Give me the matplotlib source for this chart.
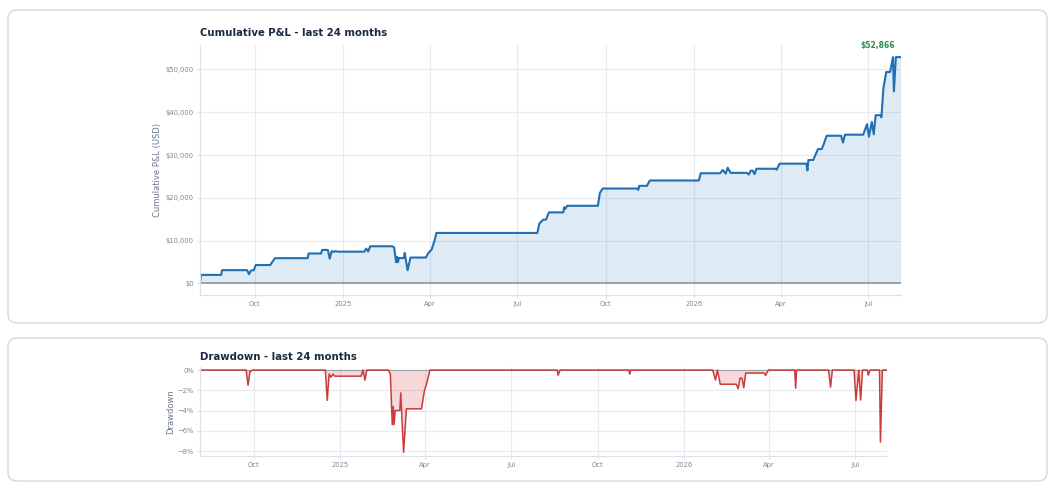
import matplotlib
matplotlib.use("Agg")
import matplotlib.pyplot as plt
import matplotlib.dates as md
from matplotlib.patches import FancyBboxPatch
from matplotlib.ticker import FuncFormatter, PercentFormatter
import numpy as np
import pandas as pd

# cumulative P&L breakpoints (USD)
pnl_dates = [
    "2024-08-05", "2024-08-06", "2024-08-27", "2024-08-28", "2024-09-23", "2024-09-25",
    "2024-09-27", "2024-09-30", "2024-10-02", "2024-10-17", "2024-10-22", "2024-11-25",
    "2024-11-26", "2024-12-09", "2024-12-10", "2024-12-16", "2024-12-18", "2024-12-20",
    "2024-12-22", "2024-12-24", "2024-12-26", "2025-01-23", "2025-01-25", "2025-01-27",
    "2025-01-29", "2025-02-21", "2025-02-23", "2025-02-25", "2025-02-26", "2025-02-27",
    "2025-02-28", "2025-03-05", "2025-03-06", "2025-03-09", "2025-03-12", "2025-03-28",
    "2025-03-31", "2025-04-02", "2025-04-03", "2025-04-06", "2025-04-08", "2025-07-22",
    "2025-07-24", "2025-07-28", "2025-07-31", "2025-08-03", "2025-08-18", "2025-08-19",
    "2025-08-20", "2025-08-22", "2025-09-23", "2025-09-25", "2025-09-28", "2025-11-03",
    "2025-11-04", "2025-11-05", "2025-11-13", "2025-11-16", "2026-01-06", "2026-01-08",
    "2026-01-28", "2026-01-31", "2026-02-03", "2026-02-05", "2026-02-08", "2026-02-25",
    "2026-02-27", "2026-03-01", "2026-03-03", "2026-03-05", "2026-03-07", "2026-03-27",
    "2026-03-28", "2026-03-31", "2026-04-28", "2026-04-29", "2026-04-30", "2026-05-05",
    "2026-05-10", "2026-05-14", "2026-05-16", "2026-05-19", "2026-06-03", "2026-06-05",
    "2026-06-07", "2026-06-26", "2026-06-30", "2026-07-02", "2026-07-05", "2026-07-07",
    "2026-07-09", "2026-07-14", "2026-07-15", "2026-07-17", "2026-07-20", "2026-07-24",
    "2026-07-27", "2026-07-28", "2026-07-30", "2026-08-04",
]
pnl_values = [
    0, 2000, 2000, 3100, 3100, 2150,
    3000, 3100, 4300, 4300, 5900, 5900,
    7000, 7000, 7830, 7830, 5800, 7560,
    7350, 7560, 7420, 7420, 8140, 7460,
    8680, 8680, 8400, 4970, 6200, 4970,
    5930, 5930, 7130, 3100, 6050, 6050,
    7240, 7650, 7900, 10000, 11800, 11800,
    13950, 14900, 14900, 16600, 16600, 17800,
    17400, 18140, 18140, 21100, 22170, 22170,
    21840, 22800, 22800, 24050, 24050, 25740,
    25740, 26500, 25640, 27050, 25830, 25830,
    25440, 26350, 26350, 25530, 26790, 26790,
    26570, 27980, 27980, 26400, 28840, 28840,
    31400, 31400, 32560, 34500, 34500, 32900,
    34750, 34750, 37200, 34280, 37750, 34850,
    39300, 39300, 38800, 45500, 49400, 49400,
    52866, 44850, 52866, 52866,
]
starting_capital = 60000  # estimated so the drawdown panel lines up
pnl_ticks = [0, 10000, 20000, 30000, 40000, 50000]
dd_ticks = [0, -0.02, -0.04, -0.06, -0.08]

dates = pd.to_datetime(pnl_dates)
pnl = np.array(pnl_values, dtype=float)
equity = starting_capital + pnl
drawdown = equity / np.maximum.accumulate(equity) - 1

TITLE = "#1b2a41"
LABEL = "#6b7789"
TICK = "#7b8698"
GRID = "#e7eaf0"
SPINE = "#dde1e8"

fig = plt.figure(figsize=(10.56, 4.88), dpi=100, facecolor="white")

# rounded cards behind the two panels (inches)
for x0, y0, w, h in [(0.08, 1.65, 10.39, 3.13), (0.08, 0.07, 10.39, 1.43)]:
    card = FancyBboxPatch((x0, y0), w, h, boxstyle="round,pad=0,rounding_size=0.09",
                          transform=fig.dpi_scale_trans, facecolor="white",
                          edgecolor="#d9dee6", linewidth=1.2, zorder=-5)
    fig.add_artist(card)

ax1 = fig.add_axes([0.1894, 0.3955, 0.6635, 0.5123])
ax2 = fig.add_axes([0.1894, 0.0662, 0.6506, 0.1824])


def style(ax):
    ax.set_facecolor("none")
    for s in ["top", "right"]:
        ax.spines[s].set_visible(False)
    for s in ["left", "bottom"]:
        ax.spines[s].set_color(SPINE)
        ax.spines[s].set_linewidth(0.9)
    ax.grid(True, color=GRID, linewidth=0.8)
    ax.set_axisbelow(True)
    ax.tick_params(colors=SPINE, labelcolor=TICK, labelsize=4.9, length=2.5, width=0.8, pad=2)
    ax.xaxis.set_major_locator(md.MonthLocator(bymonth=[1, 4, 7, 10]))
    ax.xaxis.set_major_formatter(FuncFormatter(
        lambda v, p: md.num2date(v).strftime("%Y" if md.num2date(v).month == 1 else "%b")))
    ax.set_xlim(dates[0], dates[-1])


# cumulative P&L
style(ax1)
ax1.axhline(0, color="#98a2b0", linewidth=1.4)
ax1.fill_between(dates, pnl, 0, color="#1f77b4", alpha=0.14, linewidth=0)
ax1.plot(dates, pnl, color="#1f6fb2", linewidth=1.5)
ax1.set_ylim(-2700, 55700)
ax1.set_yticks(pnl_ticks)
ax1.yaxis.set_major_formatter(FuncFormatter(lambda v, p: f"${v:,.0f}"))
ax1.set_title("Cumulative P&L - last 24 months", loc="left", fontsize=7.3,
              fontweight="bold", color=TITLE, pad=6.5)
ax1.set_ylabel("Cumulative P&L (USD)", fontsize=6, color=LABEL)
ax1.yaxis.set_label_coords(-0.054, 0.5)
ax1.annotate(f"${pnl[-1]:,.0f}", (dates[-1], pnl[-1]),
             xytext=(-4.5, 8.5), textcoords="offset points", ha="right", va="center",
             fontsize=5.5, fontweight="bold", color="#2e8b57", annotation_clip=False)

# drawdown
style(ax2)
ax2.axhline(0, color="#9aa0a8", linewidth=0.8)
ax2.fill_between(dates, drawdown, 0, color="#d9534f", alpha=0.22, linewidth=0)
ax2.plot(dates, drawdown, color="#cc3b3b", linewidth=1.1)
ax2.set_ylim(-0.0846, 0.0033)
ax2.set_yticks(dd_ticks)
ax2.yaxis.set_major_formatter(PercentFormatter(1.0, decimals=0))
ax2.set_title("Drawdown - last 24 months", loc="left", fontsize=7.3,
              fontweight="bold", color=TITLE, pad=4.7)
ax2.set_ylabel("Drawdown", fontsize=6, color=LABEL)
ax2.yaxis.set_label_coords(-0.036, 0.5)

fig.savefig("out.png", dpi=100, facecolor="white")
